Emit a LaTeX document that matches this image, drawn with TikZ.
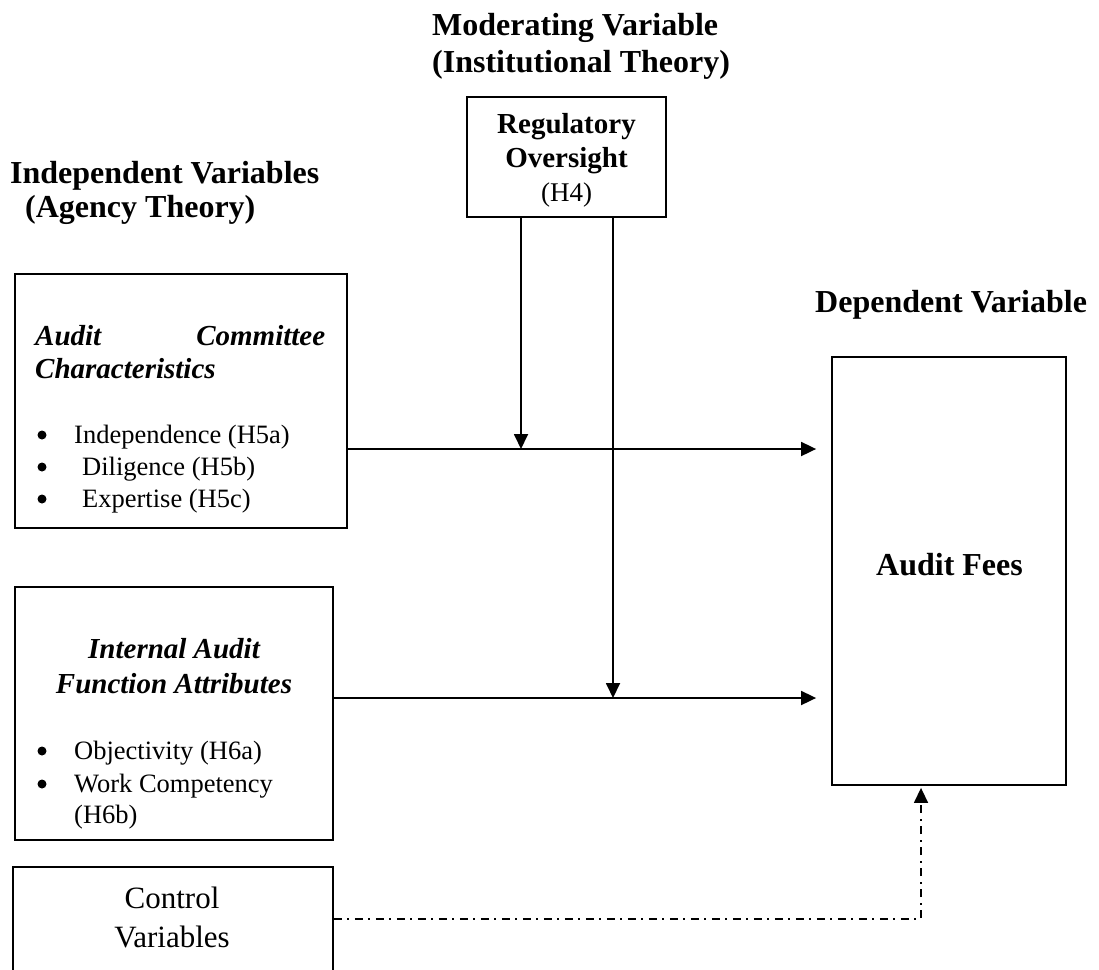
\documentclass[tikz,border=0pt]{standalone}
\usepackage{fontspec}
\setmainfont{Liberation Serif}
\usetikzlibrary{arrows.meta}
\begin{document}
\begin{tikzpicture}[x=1pt,y=-1pt,
  box/.style={draw, line width=1.8pt, rectangle, inner sep=0pt},
  arr/.style={line width=1.8pt, -{Triangle[length=15pt,width=14pt]}},
  ctrlarr/.style={line width=1.5pt, dash pattern=on 8pt off 5.5pt on 2pt off 5.5pt,
                  -{Triangle[length=15pt,width=14pt]}},
  title/.style={font=\fontsize{32}{37}\selectfont\bfseries, inner sep=0pt, anchor=base west},
  regtxt/.style={font=\fontsize{29}{33}\selectfont\bfseries, inner sep=0pt, anchor=base},
  hyp/.style={font=\fontsize{27}{33}\selectfont, inner sep=0pt, anchor=base},
  head/.style={font=\fontsize{29}{33}\selectfont\bfseries\itshape, inner sep=0pt},
  body/.style={font=\fontsize{26.5}{32}\selectfont, inner sep=0pt, anchor=base west},
  bulletdot/.style={circle, fill, inner sep=0pt, minimum size=9pt},
  big/.style={font=\fontsize{31}{38}\selectfont, inner sep=0pt, anchor=base},
  feestxt/.style={font=\fontsize{32}{37}\selectfont\bfseries, inner sep=0pt, anchor=base}
]
\useasboundingbox (0,0) rectangle (1099,969);
\clip (0,0) rectangle (1099,969);

% headings
\node[title] (mod1) at (432,35) {Moderating Variable};
\node[title] (mod2) at (432,72) {(Institutional Theory)};
\node[title] (ind1) at (10,183) {Independent Variables};
\node[title] (ind2) at (25,217) {(Agency Theory)};
\node[title] (dep1) at (815,312) {Dependent Variable};

% boxes
\node[box, minimum width=199pt, minimum height=120pt] (reg) at (566.5,157) {};
\node[box, minimum width=332pt, minimum height=254pt] (acbox) at (181,401) {};
\node[box, minimum width=318pt, minimum height=253pt] (iabox) at (174,713.5) {};
\node[box, minimum width=320pt, minimum height=130pt] (ctrl) at (173,932) {};
\node[box, minimum width=234pt, minimum height=428pt] (fees) at (949,571) {};

% moderator
\node[regtxt] (reg1) at (566.5,133) {Regulatory};
\node[regtxt] (reg2) at (566.5,167) {Oversight};
\node[hyp] (reg3) at (566.5,201) {(H4)};

% audit committee characteristics
\node[head, anchor=base west] (ac1) at (35,345) {\makebox[290pt][s]{Audit Committee}};
\node[head, anchor=base west] (ac2) at (35,378) {Characteristics};
\node[bulletdot] (acd1) at (42,435) {};
\node[bulletdot] (acd2) at (42,467) {};
\node[bulletdot] (acd3) at (42,499) {};
\node[body] (ac3) at (74,443) {Independence (H5a)};
\node[body] (ac4) at (82,475) {Diligence (H5b)};
\node[body] (ac5) at (82,507) {Expertise (H5c)};

% internal audit function attributes
\node[head, anchor=base] (ia1) at (174,658) {Internal Audit};
\node[head, anchor=base] (ia2) at (174,693) {Function Attributes};
\node[bulletdot] (iad1) at (42,751) {};
\node[bulletdot] (iad2) at (42,784) {};
\node[body] (ia3) at (74,759) {Objectivity (H6a)};
\node[body] (ia4) at (74,792) {Work Competency};
\node[body] (ia5) at (74,823) {(H6b)};

% control variables
\node[big] (ct1) at (172,908) {Control};
\node[big] (ct2) at (172,947) {Variables};

% dependent variable
\node[feestxt] (fe1) at (949.5,575) {Audit Fees};

% junctions on the main paths
\coordinate (j1) at (521,449);
\coordinate (j2) at (613,698);

% direct effects
\draw[arr, shorten >=15pt] (acbox.east |- 0,449) -- (fees.west |- 0,449);
\draw[arr, shorten >=15pt] (iabox.east |- 0,698) -- (fees.west |- 0,698);

% moderating effects
\draw[arr] (reg.south -| j1) -- (j1);
\draw[arr] (reg.south -| j2) -- (j2);

% control variables
\draw[ctrlarr, shorten >=2pt] (ctrl.east |- 0,919) -| (fees.south -| 921,0);
\end{tikzpicture}
\end{document}
